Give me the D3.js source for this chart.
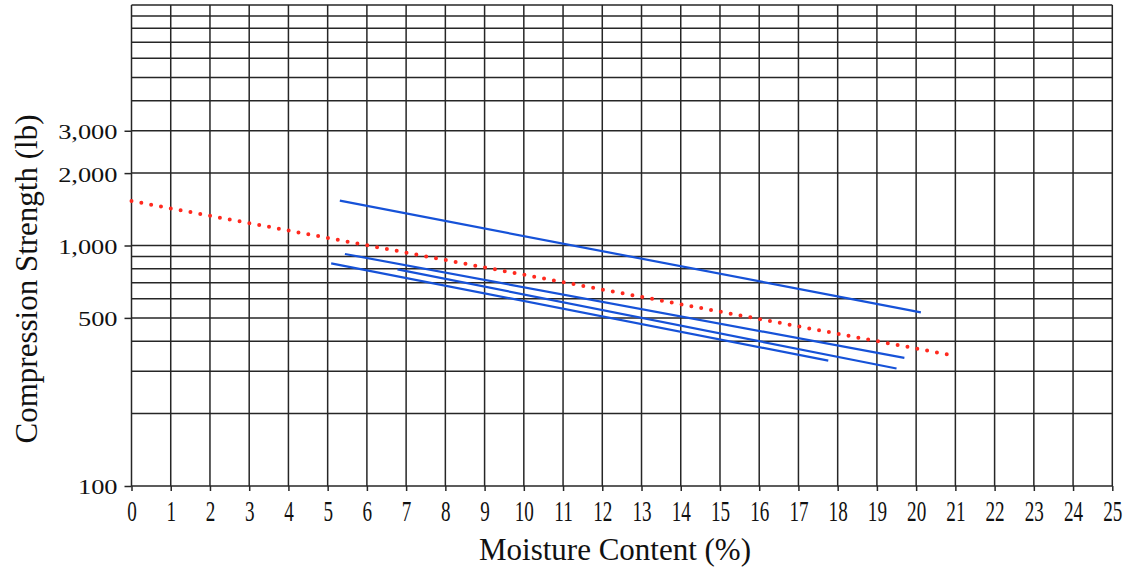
<!DOCTYPE html>
<html lang="en">
<head>
    <meta charset="UTF-8">
    <title>Compression Strength vs Moisture Content</title>
    <script src="https://d3js.org/d3.v7.min.js"></script>
    <style>
        body { margin: 0; background: #fff; }
        .grid line { stroke: #262626; stroke-width: 1.5px; }
        .axis text { font-family: "Liberation Serif", "Times New Roman", serif; fill: #111; }
        .axis line { stroke: #262626; stroke-width: 1.5px; }
        .title { font-family: "Liberation Serif", "Times New Roman", serif; font-size: 31px; fill: #111; }
    </style>
</head>
<body>
<svg id="chart"></svg>
<script>
    // Data
    const xTicks = d3.range(0, 26);
    const yTickLabels = [100, 500, 1000, 2000, 3000];
    const yGrid = [100, 200, 300, 400, 500, 600, 700, 800, 900,
                   1000, 2000, 3000, 4000, 5000, 6000, 7000, 8000, 9000, 10000];

    // red dotted trend line: [moisture %, strength lb]
    const redLine = [[0, 1531], [20.78, 353]];
    // blue measured lines
    const blueLine1 = [[5.31, 1536], [20.12, 527]];
    const blueLine2 = [[5.44, 922], [19.70, 341]];
    const blueLine3 = [[5.09, 843], [17.76, 332]];
    const blueLine4 = [[6.78, 796], [19.50, 308]];
    const blueLines = [blueLine1, blueLine2, blueLine3, blueLine4];

    const width = 1127, height = 569;
    const margin = { left: 131.5, right: 1112.3, top: 5, bottom: 486 };

    const svg = d3.select("#chart")
        .attr("width", width)
        .attr("height", height);

    const x = d3.scaleLinear().domain([0, 25]).range([margin.left, margin.right]);
    const y = d3.scaleLog().domain([100, 10000]).range([margin.bottom, margin.top]);

    // grid
    const grid = svg.append("g").attr("class", "grid");
    grid.selectAll(".v").data(xTicks).enter().append("line")
        .attr("x1", d => x(d)).attr("x2", d => x(d))
        .attr("y1", margin.top).attr("y2", margin.bottom);
    grid.selectAll(".h").data(yGrid).enter().append("line")
        .attr("x1", margin.left).attr("x2", margin.right)
        .attr("y1", d => y(d)).attr("y2", d => y(d));

    // x axis
    const xAxis = svg.append("g")
        .attr("class", "axis")
        .attr("transform", "translate(0," + margin.bottom + ")")
        .call(d3.axisBottom(x).tickValues(xTicks).tickSize(5).tickFormat(d3.format("d")));
    xAxis.select(".domain").remove();
    xAxis.selectAll("text")
        .style("font-size", "29px")
        .attr("y", 35)
        .attr("dy", 0)
        .attr("transform", "scale(0.66,1)");

    // y axis
    const yAxis = svg.append("g")
        .attr("class", "axis")
        .attr("transform", "translate(" + margin.left + ",0)")
        .call(d3.axisLeft(y).tickValues(yTickLabels).tickSize(7).tickFormat(d3.format(",")));
    yAxis.select(".domain").remove();
    yAxis.selectAll("text")
        .style("font-size", "22px")
        .attr("x", -14 / 1.2)
        .attr("dy", "0.36em")
        .attr("transform", "scale(1.2,1)");

    // lines
    const line = d3.line()
        .x(d => x(d[0]))
        .y(d => y(d[1]));

    svg.selectAll(".blue").data(blueLines).enter().append("path")
        .attr("d", line)
        .attr("fill", "none")
        .attr("stroke", "#1652d8")
        .attr("stroke-width", 2.2);

    const red = svg.append("path")
        .datum(redLine)
        .attr("d", line)
        .attr("fill", "none")
        .attr("stroke", "#ff2a1f")
        .attr("stroke-width", 4)
        .attr("stroke-linecap", "round");
    // spread the dots so one lands on each end
    const len = red.node().getTotalLength();
    const gap = len / Math.round(len / 10);
    red.attr("stroke-dasharray", "0 " + gap);

    // axis titles
    svg.append("text")
        .attr("class", "title")
        .attr("x", 615)
        .attr("y", 560)
        .attr("text-anchor", "middle")
        .text("Moisture Content (%)");

    svg.append("text")
        .attr("class", "title")
        .attr("transform", "translate(37,279) rotate(-90)")
        .attr("text-anchor", "middle")
        .text("Compression Strength (lb)");
</script>
</body>
</html>
